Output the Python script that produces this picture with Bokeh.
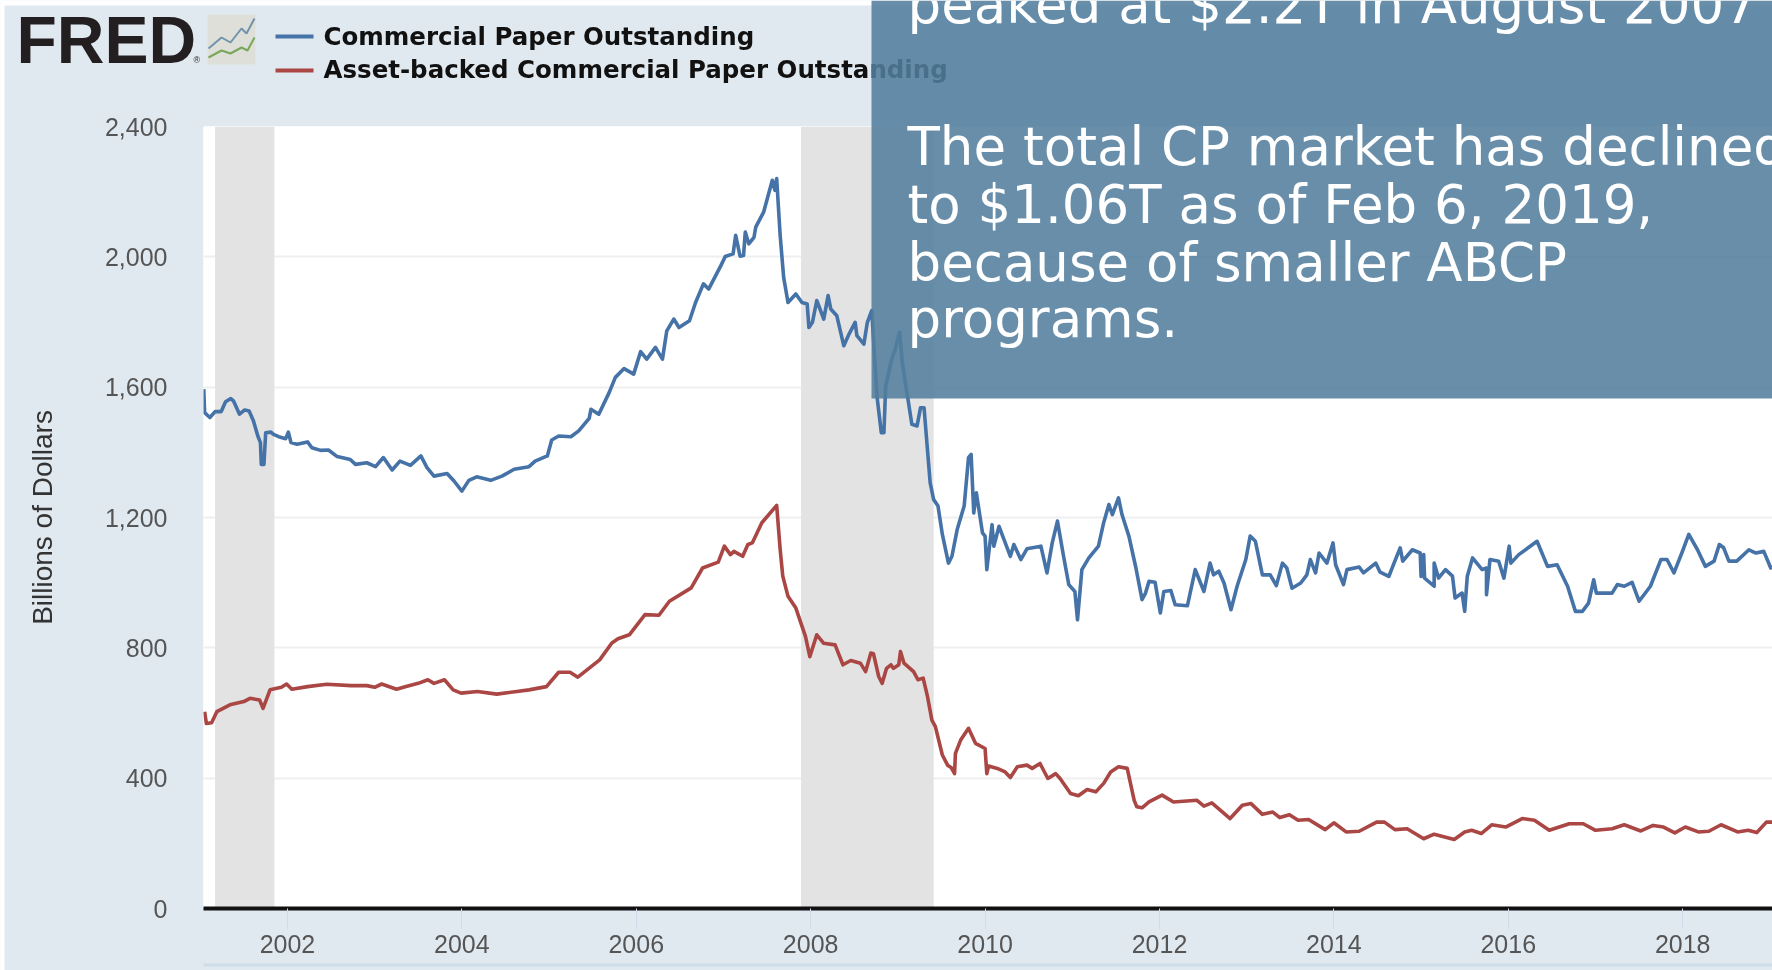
from bokeh.plotting import figure
from bokeh.models import Range1d, FixedTicker, NumeralTickFormatter, PrintfTickFormatter
from bokeh.core.properties import value
from bokeh.embed import file_html
from bokeh.resources import INLINE

cp_years = [2001.04,2001.05,2001.11,2001.17,2001.24,2001.29,2001.35,2001.38,2001.45,2001.51,2001.56,2001.61,2001.66,2001.69,2001.70,2001.73,2001.75,2001.81,2001.84,2001.90,2001.98,2002.01,2002.04,2002.11,2002.23,2002.28,2002.38,2002.47,2002.57,2002.72,2002.78,2002.91,2003.01,2003.10,2003.20,2003.29,2003.41,2003.53,2003.60,2003.68,2003.83,2003.91,2004.00,2004.08,2004.17,2004.33,2004.46,2004.60,2004.77,2004.84,2004.98,2005.03,2005.11,2005.25,2005.34,2005.46,2005.48,2005.57,2005.69,2005.76,
2005.86,2005.97,2006.05,2006.12,2006.22,2006.30,2006.35,2006.43,2006.49,2006.61,2006.68,2006.77,2006.83,2006.97,2007.02,2007.11,2007.14,2007.19,2007.23,2007.25,2007.29,2007.35,2007.37,2007.46,2007.56,2007.59,2007.61,2007.65,2007.69,2007.74,2007.83,2007.90,2007.96,2007.98,2008.02,2008.07,2008.15,2008.20,2008.23,2008.30,2008.38,2008.44,2008.51,2008.53,2008.61,2008.65,2008.70,
2008.76,2008.81,2008.84,2008.86,2008.93,2008.97,2009.02,2009.05,2009.11,2009.16,2009.22,2009.26,2009.30,2009.32,2009.37,2009.41,2009.46,2009.51,2009.58,2009.62,2009.68,2009.76,2009.81,2009.84,2009.87,2009.90,2009.97,2010.00,2010.02,2010.08,2010.10,2010.16,2010.29,2010.33,2010.41,2010.48,2010.64,2010.71,2010.77,2010.83,2010.90,2010.96,2011.03,2011.06,2011.11,2011.19,
2011.30,2011.36,2011.42,2011.46,2011.53,2011.57,2011.65,2011.73,2011.80,2011.84,2011.88,2011.95,2012.01,2012.05,2012.13,2012.18,2012.32,2012.41,2012.51,2012.58,2012.62,2012.68,2012.74,2012.82,2012.89,2012.99,2013.04,2013.10,2013.18,2013.27,2013.34,2013.41,2013.46,2013.52,2013.62,2013.69,2013.73,2013.79,2013.83,2013.92,2013.99,2014.02,2014.11,2014.15,2014.29,2014.34,2014.48,2014.53,2014.63,2014.69,2014.76,2014.79,2014.90,2014.99,2015.00,2015.03,2015.04,
2015.15,2015.15,2015.20,2015.28,2015.36,2015.39,2015.47,2015.50,2015.53,2015.59,2015.70,2015.75,2015.75,2015.79,2015.89,2015.95,2016.01,2016.03,2016.12,2016.33,2016.45,2016.56,2016.68,2016.77,2016.85,2016.92,2016.98,2017.01,2017.19,2017.25,2017.33,2017.42,2017.50,2017.63,2017.75,2017.82,2017.90,2017.99,2018.07,2018.17,2018.26,2018.36,2018.42,2018.47,2018.53,2018.62,2018.76,2018.84,2018.93,2019.01,2019.03]
cp_values = [1594,1522,1507,1525,1525,1555,1565,1558,1517,1530,1527,1496,1450,1430,1363,1363,1460,1462,1455,1448,1442,1462,1430,1425,1432,1414,1406,1407,1387,1378,1363,1368,1356,1384,1346,1373,1360,1389,1353,1327,1335,1312,1281,1314,1325,1314,1327,1348,1356,1373,1389,1438,1450,1448,1466,1504,1532,1517,1584,1630,
1657,1640,1709,1686,1722,1686,1773,1809,1783,1804,1860,1917,1901,1973,2001,2009,2066,2002,2004,2076,2040,2060,2091,2137,2235,2204,2240,2066,1937,1860,1886,1860,1855,1783,1799,1866,1809,1881,1840,1819,1727,1763,1799,1758,1732,1799,1835,
1573,1460,1460,1604,1686,1717,1768,1676,1573,1486,1481,1537,1537,1471,1307,1255,1235,1148,1060,1081,1163,1235,1384,1394,1214,1276,1153,1143,1040,1178,1112,1173,1081,1117,1071,1104,1112,1030,1122,1189,1081,994,973,886,1040,1076,
1112,1184,1240,1209,1260,1209,1142,1045,948,968,1004,1001,907,973,976,932,929,1040,973,1060,1024,1035,999,917,989,1071,1143,1127,1024,1024,991,1060,1045,983,999,1024,1071,1030,1091,1060,1122,1055,994,1040,1048,1030,1060,1032,1019,1060,1107,1066,1101,1091,1019,1086,1014,
989,1060,1014,1040,1020,953,968,912,1020,1076,1040,1045,963,1071,1066,1014,1112,1060,1086,1127,1050,1055,989,912,912,937,1009,968,968,994,989,1001,943,989,1071,1071,1030,1091,1148,1101,1050,1066,1117,1107,1066,1066,1101,1091,1096,1045,1050]

abcp_years = [2001.05,2001.07,2001.13,2001.19,2001.34,2001.50,2001.57,2001.68,2001.72,2001.80,2001.93,2001.99,2002.05,2002.23,2002.45,2002.73,2002.91,2003.00,2003.08,2003.25,2003.36,2003.50,2003.61,2003.68,2003.80,2003.90,2003.99,2004.18,2004.40,2004.63,2004.77,2004.97,2005.11,2005.24,2005.33,2005.58,2005.72,2005.79,2005.92,2006.10,2006.26,2006.38,2006.63,2006.76,2006.94,2007.01,2007.08,2007.12,2007.22,2007.28,2007.33,2007.44,2007.61,2007.65,2007.68,2007.74,2007.83,2007.94,
2007.99,2008.07,2008.15,2008.28,2008.37,2008.46,2008.57,2008.63,2008.69,2008.72,2008.78,2008.82,2008.87,2008.92,2008.95,2009.01,2009.03,2009.07,2009.18,2009.23,2009.29,2009.34,2009.39,2009.43,2009.51,2009.57,2009.61,2009.65,2009.66,2009.72,2009.81,2009.89,2010.00,2010.02,2010.04,2010.14,2010.23,2010.29,2010.37,2010.48,2010.54,2010.63,2010.72,2010.81,2010.86,2010.98,2011.07,2011.17,2011.27,2011.36,2011.44,2011.53,2011.63,2011.71,2011.74,2011.80,2011.88,2012.03,2012.16,2012.43,2012.51,2012.60,2012.81,2012.95,
2013.05,2013.18,2013.30,2013.38,2013.49,2013.59,2013.71,2013.90,2014.00,2014.14,2014.29,2014.49,2014.58,2014.70,2014.84,2015.03,2015.15,2015.38,2015.50,2015.58,2015.69,2015.81,2015.97,2016.16,2016.30,2016.47,2016.70,2016.86,2017.00,2017.19,2017.33,2017.52,2017.66,2017.78,2017.91,2018.03,2018.18,2018.30,2018.44,2018.63,2018.75,2018.85,2018.96,2019.03]
abcp_values = [604,568,570,604,625,635,645,640,614,671,679,689,673,681,688,684,684,679,689,673,681,691,702,691,702,671,661,666,658,666,671,681,725,725,710,763,815,828,840,902,900,943,984,1045,1063,1112,1086,1096,1081,1117,1122,1184,1237,1102,1020,958,922,835,
773,840,814,809,748,761,753,727,784,782,712,691,737,748,737,748,789,753,727,702,707,650,578,558,471,440,433,414,476,517,553,507,491,414,437,430,419,402,435,440,430,445,399,414,399,353,346,365,358,384,419,435,430,332,312,309,327,348,327,332,314,324,276,317,
322,289,296,279,288,271,273,242,263,235,237,265,265,242,245,214,228,212,235,240,230,257,250,276,271,240,260,260,240,245,257,238,255,250,232,250,235,237,257,235,240,233,265,265]

recession_starts = [2001.17, 2007.89]
recession_ends = [2001.85, 2009.41]
x_tick_years = [2002, 2004, 2006, 2008, 2010, 2012, 2014, 2016, 2018]
y_tick_values = [0, 400, 800, 1200, 1600, 2000, 2400]
series_names = ["Commercial Paper Outstanding", "Asset-backed Commercial Paper Outstanding"]
overlay_lines = ["peaked at $2.2T in August 2007",
                 "The total CP market has declined",
                 "to $1.06T as of Feb 6, 2019,",
                 "because of smaller ABCP",
                 "programs."]

W, H = 1772, 970
FL, FT, FB = 203, 126, 908
BG = "#e1e9f0"
BLUE, RED = "#4572a7", "#aa4643"
BLUR = "blur(0.7px)"

# chart layer
p = figure(width=W, height=H, output_backend="svg", toolbar_location=None,
           x_range=Range1d(2001.037, 2019.03), y_range=Range1d(0, 2400),
           frame_width=W - FL, frame_height=FB - FT,
           min_border_left=FL, min_border_right=0, min_border_top=FT, min_border_bottom=H - FB,
           background_fill_color="white", border_fill_color=BG, outline_line_color=None)
p.styles = {"position": "absolute", "left": "0px", "top": "0px", "filter": BLUR}

p.xgrid.visible = False
p.ygrid.grid_line_color = "#efefef"
p.ygrid.grid_line_width = 2
p.ygrid.ticker = FixedTicker(ticks=y_tick_values[1:])

xa = p.xaxis[0]
xa.ticker = FixedTicker(ticks=x_tick_years)
xa.formatter = PrintfTickFormatter(format="%d")
xa.axis_line_color = "#111111"
xa.axis_line_width = 4
xa.major_tick_line_color = "#cfdbe8"
xa.major_tick_line_width = 1
xa.major_tick_in = 0
xa.major_tick_out = 20
xa.minor_tick_line_color = None
xa.major_label_standoff = 6
xa.major_label_text_font = "Liberation Sans"
xa.major_label_text_font_size = "25px"
xa.major_label_text_color = "#555555"

ya = p.yaxis[0]
ya.ticker = FixedTicker(ticks=y_tick_values)
ya.formatter = NumeralTickFormatter(format="0,0")
ya.axis_line_color = None
ya.major_tick_line_color = None
ya.minor_tick_line_color = None
ya.major_label_standoff = 30
ya.major_label_text_font = "Liberation Sans"
ya.major_label_text_font_size = "25px"
ya.major_label_text_color = "#555555"
ya.axis_label = "Billions of Dollars"
ya.axis_label_text_font = "Liberation Sans"
ya.axis_label_text_font_size = "28px"
ya.axis_label_text_font_style = "normal"
ya.axis_label_text_color = "#333333"
ya.axis_label_standoff = 44

p.quad(left=recession_starts, right=recession_ends, bottom=0, top=2400,
       fill_color="#e3e3e3", line_color=None)
p.line(cp_years, cp_values, line_color=BLUE, line_width=3.6, line_join="round")
p.line(abcp_years, abcp_values, line_color=RED, line_width=3.6, line_join="round")


def layer(blur=False):
    f = figure(width=W, height=H, output_backend="svg", toolbar_location=None,
               x_range=Range1d(0, W), y_range=Range1d(H, 0),
               x_axis_type=None, y_axis_type=None,
               min_border=0, min_border_left=0, min_border_right=0, min_border_top=0, min_border_bottom=0,
               background_fill_color=None, border_fill_color=None, outline_line_color=None)
    f.styles = {"position": "absolute", "left": "0px", "top": "0px"}
    if blur:
        f.styles["filter"] = BLUR
    f.grid.visible = False
    return f


def box(f, l, t, r, b, color, alpha=1.0):
    f.quad(left=[l], right=[r], top=[t], bottom=[b], fill_color=color, fill_alpha=alpha, line_color=None)


def label(f, px, py, text, size, color, font="Liberation Sans", style="normal"):
    # the svg text sits about 0.36 em below the requested alphabetic line
    f.text(x=[px], y=[py - 0.36 * size], text=[text], text_font=value(font), text_font_size=value(f"{size}px"),
           text_font_style=style, text_color=color, text_baseline="alphabetic", text_align="left")


# header layer: page strips, logo, legend
m = layer(blur=True)
box(m, FL, 963, W, 966, "#cfdcea")
label(m, 16, 63, "FRED", 66, "#231f20", style="bold")
label(m, 193, 63, "®", 9, "#231f20")
box(m, 207, 14, 255, 64, "#dedfd9")
m.line([208, 221, 230, 241, 246, 254], [48, 37, 42, 28, 33, 18], line_color="#6f93ad", line_width=2)
m.line([208, 221, 230, 241, 247, 254], [57, 50, 53, 47, 50, 37], line_color="#79a75a", line_width=2)
box(m, 275, 34, 313, 38, BLUE)
box(m, 275, 68, 313, 72, RED)
label(m, 323, 45, series_names[0], 24.5, "#111111", font="DejaVu Sans", style="bold")
label(m, 323, 78, series_names[1], 24.5, "#111111", font="DejaVu Sans", style="bold")

# overlay layer: white page strips and the panel
q = layer()
box(q, 0, 0, 4, H, "white")
box(q, 0, 0, W, 5, "white")
box(q, 871, 0, W, 398, "#527d9c", alpha=0.87)
for line, base in zip(overlay_lines, [23, 165, 223, 281, 337]):
    label(q, 907, base, line, 53, "white", font="DejaVu Sans")

open("out.html", "w").write(file_html([p, m, q], INLINE))
